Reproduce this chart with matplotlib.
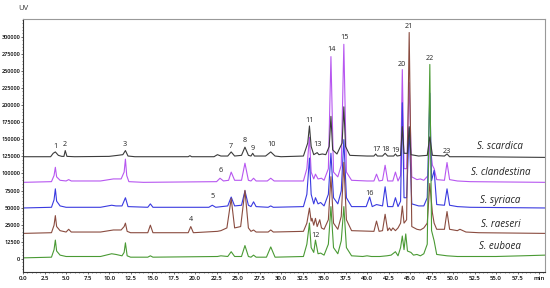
import numpy as np
import matplotlib
matplotlib.use("Agg")
import matplotlib.pyplot as plt
from matplotlib.ticker import MultipleLocator

plt.rcParams["font.family"] = ["Open Sans", "DejaVu Sans"]

# retention time (min), signal above baseline (x1000 uV)
scardica = [(0, 0), (3.2, 0), (3.5, 5), (3.75, 7), (4.1, 2), (4.5, 0.5), (4.75, 0.5), (4.9, 9), (5.1, 0.5),
            (6, 0), (10, 0.5), (11.0, 2), (11.6, 3), (11.9, 9), (12.2, 1), (13, 0), (19.2, 0), (19.4, 1.5),
            (19.6, 0), (22.2, 0), (22.6, 3), (23.0, 1), (23.8, 1), (24.2, 7), (24.6, 1), (25.4, 2), (25.8, 14),
            (26.2, 2), (26.5, 1), (26.7, 5), (26.9, 1), (28.2, 1), (28.8, 7), (29.3, 1), (30, 0), (32.6, 1),
            (33.1, 20), (33.3, 45), (33.5, 15), (33.8, 3), (34.2, 6), (34.4, 3), (34.8, 4), (35.2, 3), (35.6, 15),
            (35.8, 59), (36.0, 10), (36.5, 4), (37.1, 20), (37.3, 73), (37.5, 15), (38.0, 2), (40.0, 1),
            (40.8, 1), (41.0, 4), (41.2, 1), (41.8, 1), (42.1, 5), (42.4, 1), (43.1, 1), (43.3, 4), (43.5, 1),
            (43.9, 2), (44.1, 44), (44.3, 5), (44.7, 5), (44.9, 44), (45.1, 3), (46.0, 1), (47.0, 2), (47.3, 29),
            (47.6, 2), (49.0, 1), (49.3, 4), (49.6, 0), (52, 0), (60.7, -1)]

clandestina = [(0, 0), (3.3, 1), (3.6, 10), (3.75, 22), (3.9, 8), (4.3, 3), (5, 2), (5.3, 4), (5.6, 2), (9, 2),
               (10.5, 5), (11.4, 5), (11.75, 15), (11.9, 34), (12.05, 10), (12.3, 1), (14, 0), (22.5, 1),
               (22.9, 6), (23.3, 2), (23.9, 3), (24.2, 15), (24.6, 3), (25.4, 3), (25.8, 28), (26.2, 3),
               (26.5, 2), (26.8, 6), (27.1, 2), (28.4, 2), (28.8, 6), (29.2, 2), (32.6, 2), (33.0, 20),
               (33.3, 66), (33.5, 15), (33.8, 5), (34.0, 12), (34.3, 5), (34.7, 6), (35.0, 3), (35.5, 20),
               (35.8, 184), (36.1, 15), (36.6, 8), (37.0, 25), (37.3, 202), (37.6, 15), (38.2, 3), (40, 2),
               (40.8, 2), (41.1, 12), (41.4, 2), (41.8, 3), (42.1, 25), (42.4, 2), (43.0, 2), (43.3, 15),
               (43.6, 2), (43.9, 10), (44.1, 165), (44.3, 20), (44.6, 20), (44.9, 146), (45.2, 8), (45.8, 4),
               (46.2, 5), (46.6, 3), (47.1, 10), (47.3, 59), (47.6, 25), (47.8, 20), (48.1, 4), (49.0, 3),
               (49.3, 29), (49.6, 4), (50.5, 2), (52, 1), (60.7, 0)]

syriaca = [(0, 0), (3.3, 1), (3.6, 12), (3.75, 28), (3.9, 10), (4.3, 3), (5, 1), (9, 1), (10.3, 4), (10.8, 3),
           (11.5, 3), (11.9, 15), (12.2, 2), (14.5, 1), (14.8, 6), (15.1, 1), (21.6, 1), (22.0, 4), (22.4, 1),
           (23.8, 3), (24.2, 16), (24.6, 3), (25.4, 4), (25.8, 25), (26.2, 4), (26.5, 2), (26.8, 9), (27.1, 2),
           (28.5, 1), (28.8, 3), (29.1, 1), (32.6, 2), (33.0, 20), (33.3, 73), (33.5, 20), (33.8, 6),
           (34.0, 15), (34.3, 6), (34.6, 8), (35.0, 3), (35.5, 20), (35.8, 80), (36.1, 15), (36.6, 6),
           (37.0, 25), (37.3, 100), (37.6, 15), (38.2, 2), (39.9, 2), (40.3, 16), (40.6, 2), (41.1, 5),
           (41.8, 3), (42.1, 31), (42.4, 2), (43.0, 2), (43.3, 15), (43.6, 2), (43.9, 10), (44.1, 154),
           (44.3, 15), (44.6, 15), (44.9, 117), (45.2, 6), (46, 3), (46.6, 3), (47.0, 15), (47.3, 168),
           (47.5, 40), (47.8, 55), (48.1, 5), (49.0, 4), (49.3, 28), (49.6, 4), (50.5, 2), (52, 1), (60.7, 0)]

raeseri = [(0, 0), (3.3, 1), (3.6, 12), (3.75, 26), (3.9, 10), (4.3, 4), (5, 2), (5.3, 6), (5.6, 2), (9, 2),
           (10.5, 5), (11.4, 5), (11.75, 10), (11.9, 15), (12.1, 3), (12.5, 1), (14.5, 1), (14.8, 12),
           (15.1, 1), (19.2, 1), (19.5, 10), (19.8, 1), (22.6, 3), (23, 4), (23.7, 8), (24.2, 51), (24.6, 8),
           (25.3, 10), (25.8, 63), (26.2, 8), (26.5, 3), (26.8, 5), (27.1, 2), (28.5, 2), (28.8, 5), (29.1, 2),
           (32.6, 3), (33.0, 15), (33.3, 37), (33.5, 18), (33.6, 22), (33.8, 12), (34.0, 22), (34.2, 10),
           (34.5, 20), (34.7, 8), (35.0, 6), (35.5, 20), (35.8, 83), (36.1, 15), (36.6, 6), (37.0, 25),
           (37.3, 104), (37.6, 20), (38.2, 4), (40.8, 3), (41.1, 18), (41.4, 3), (41.8, 4), (42.1, 28),
           (42.4, 4), (42.6, 8), (42.8, 4), (43.0, 8), (43.3, 4), (43.6, 8), (43.9, 15), (44.1, 40), (44.3, 15),
           (44.6, 20), (44.9, 294), (45.2, 10), (45.8, 6), (46.2, 5), (46.6, 8), (47.0, 15), (47.3, 73),
           (47.6, 30), (47.8, 15), (48.1, 6), (49.0, 6), (49.3, 32), (49.6, 6), (50.5, 4), (50.8, 6), (51.5, 2),
           (53, 1), (60.7, 0)]

euboea = [(0, 0), (3.3, 1), (3.6, 12), (3.75, 26), (3.9, 10), (4.3, 4), (5, 2), (9, 2), (10.3, 6), (10.8, 5),
          (11.5, 3), (11.75, 8), (11.9, 22), (12.1, 3), (12.5, 1), (14.5, 1), (14.8, 3), (15.1, 1), (22.6, 2),
          (23, 3), (23.8, 2), (24.2, 9), (24.6, 2), (25.4, 2), (25.8, 18), (26.2, 2), (26.5, 1), (26.8, 4),
          (27.1, 1), (28.3, 1), (28.8, 16), (29.3, 1), (32.6, 2), (33.0, 20), (33.3, 51), (33.5, 15),
          (33.8, 8), (34.0, 26), (34.3, 6), (34.6, 7), (35.0, 4), (35.5, 20), (35.8, 75), (36.1, 15),
          (36.6, 6), (37.0, 25), (37.3, 75), (37.6, 15), (38.2, 3), (39.5, 2), (40.0, 3), (40.5, 2), (41.5, 2),
          (42.3, 3), (42.8, 4), (43.3, 9), (43.6, 3), (43.9, 15), (44.1, 32), (44.3, 12), (44.5, 35),
          (44.7, 10), (45.1, 8), (45.4, 4), (45.8, 5), (46.2, 3), (46.6, 6), (47.0, 20), (47.3, 283),
          (47.5, 40), (47.8, 25), (48.1, 5), (49.3, 3), (50.5, 2), (55, 2), (58, 3), (60.7, 4)]

species = ["S. scardica", "S. clandestina", "S. syriaca", "S. raeseri", "S. euboea"]
baselines = [149500, 112000, 74500, 37300, 1500]
colors = ["#3c3c3c", "#b757f0", "#3a3ae0", "#8a4c40", "#4a9a34"]

# peak numbers: (label, retention time, y of the label)
peak_labels = [(1, 3.72, 165000), (2, 4.88, 167000), (3, 11.86, 167000), (4, 19.53, 57000),
               (5, 21.98, 92000), (6, 23.02, 130000), (7, 24.19, 164000), (8, 25.81, 173000),
               (9, 26.74, 162000), (10, 28.84, 167000), (11, 33.26, 203000), (12, 33.95, 34000),
               (13, 34.19, 167000), (14, 35.81, 306000), (15, 37.33, 324000), (16, 40.35, 95000),
               (17, 41.05, 160000), (18, 42.2, 160000), (19, 43.26, 158000), (20, 44.07, 284000),
               (21, 44.88, 340000), (22, 47.33, 293000), (23, 49.3, 157000)]

y_tick_labels = ["0", "12500", "25000", "50000", "75000", "100000", "125000", "150000",
                 "175000", "200000", "225000", "250000", "275000", "300000"]
x_tick_labels = ["0.0", "2.5", "5.0", "7.5", "10.0", "12.5", "15.0", "17.5", "20.0", "22.5", "25.0",
                 "27.5", "30.0", "32.5", "35.0", "37.5", "40.0", "42.5", "45.0", "47.5", "50.0", "52.5",
                 "55.0", "57.5", "min"]

traces = [scardica, clandestina, syriaca, raeseri, euboea]

fig = plt.figure(figsize=(5.5, 2.88), dpi=100)
ax = fig.add_axes([0.042, 0.056, 0.949, 0.878])

# draw order so the later traces sit on top where the peaks overlap
for i in [1, 2, 3, 4, 0]:
    t = np.array([p[0] for p in traces[i]])
    v = np.array([p[1] for p in traces[i]]) * 1000 + baselines[i]
    ax.plot(t, v, color=colors[i], lw=0.8)

for n, t, y in peak_labels:
    ax.text(t, y, str(n), ha="center", va="center", fontsize=5.2, color="#222222")

label_y = [164000, 126000, 86000, 51000, 17600]
for name, y in zip(species, label_y):
    ax.text(55.5, y, name, ha="center", va="center", fontsize=7, style="italic", color="#222222")

ax.set_xlim(0, 60.7)
ax.set_ylim(-19000, 351000)
ax.set_xticks(np.arange(len(x_tick_labels)) * 2.5)
ax.set_xticklabels(x_tick_labels)
ax.set_yticks(np.arange(len(y_tick_labels)) * 25000)
ax.set_yticklabels(y_tick_labels)
ax.xaxis.set_minor_locator(MultipleLocator(0.5))
ax.yaxis.set_minor_locator(MultipleLocator(5000))
ax.tick_params(which="major", length=1.6, width=0.5, color="#333333")
ax.tick_params(which="minor", length=1.0, width=0.4, color="#333333")
ax.tick_params(axis="x", labelsize=4.3, pad=1.5)
ax.tick_params(axis="y", labelsize=3.95, pad=0.5)
for lab in ax.get_xticklabels() + ax.get_yticklabels():
    lab.set_fontweight("semibold")

for s in ["left", "bottom"]:
    ax.spines[s].set_color("#333333")
    ax.spines[s].set_linewidth(0.8)
for s in ["top", "right"]:
    ax.spines[s].set_color("#999999")
    ax.spines[s].set_linewidth(0.8)

fig.text(0.033, 0.972, "UV", fontsize=5.5, ha="left", va="center", color="#333333")

fig.savefig("out.png", dpi=100)
